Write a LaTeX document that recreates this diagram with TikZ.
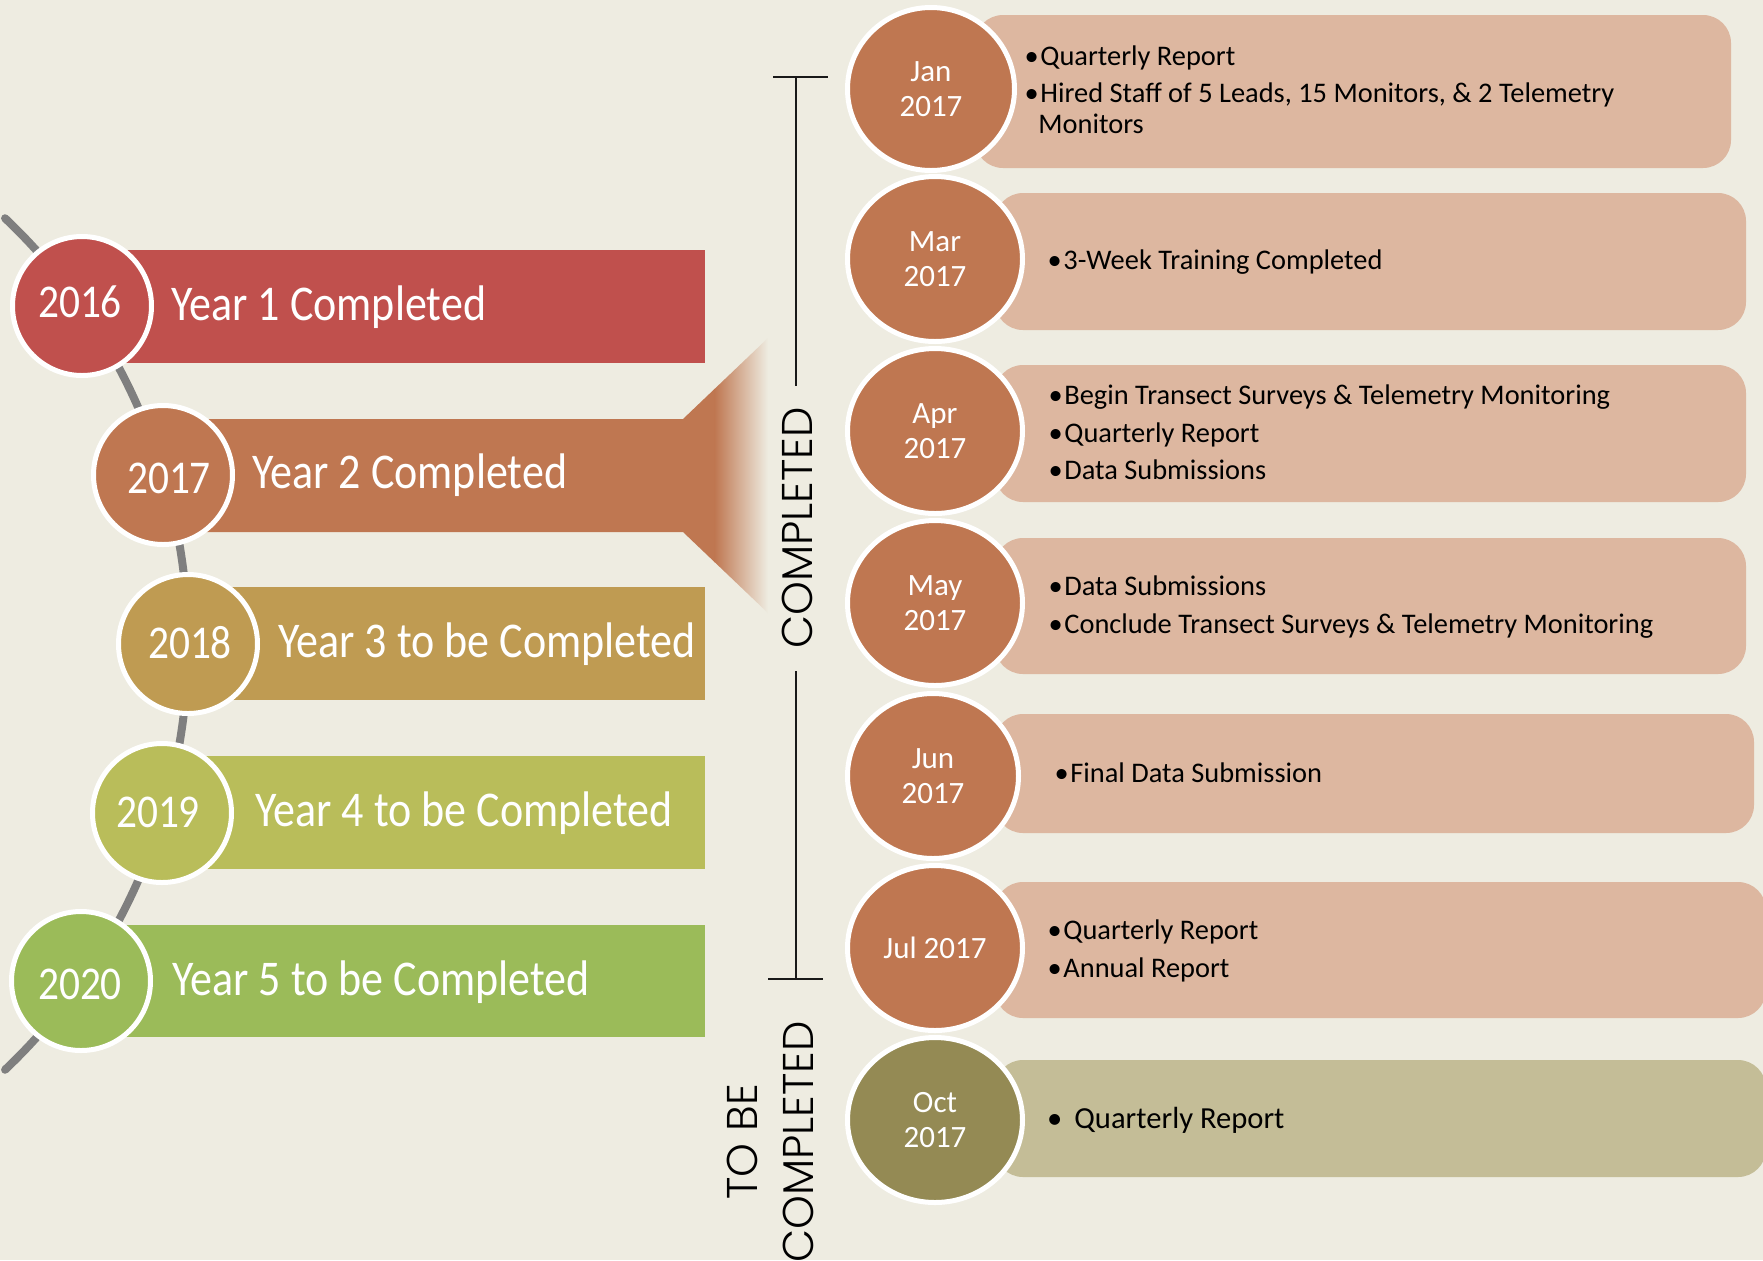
\documentclass[tikz,border=0pt]{standalone}
\usepackage{fontspec}
\setmainfont{Carlito}
\newfontfamily\condf{Carlito}[FakeStretch=0.88]
\IfFontExistsTF{Poppins Light}{\newfontfamily\gothf{Poppins Light}}{\newfontfamily\gothf{Poppins}}
\usetikzlibrary{shapes.geometric}
\definecolor{bg}{HTML}{EEECE1}
\definecolor{cRed}{HTML}{C0504D}
\definecolor{cOrg}{HTML}{BF7751}
\definecolor{cGold}{HTML}{BF9B52}
\definecolor{cYG}{HTML}{B9BD5A}
\definecolor{cGrn}{HTML}{9BBB59}
\definecolor{cSal}{HTML}{DDB7A0}
\definecolor{cOli}{HTML}{948A54}
\definecolor{cTan}{HTML}{C4BD97}
\definecolor{cGray}{HTML}{7F7F7F}
\newcommand\bul{\makebox[0pt][r]{•\hspace{0.8pt}}}
\begin{document}
\begin{tikzpicture}[x=0.5pt,y=-0.5pt,
  lc/.style={circle, draw=white, line width=2.5pt, minimum size=69.5pt, inner sep=0pt},
  ytext/.style={anchor=base west, text=white, inner sep=0pt, font=\condf\fontsize{25}{30}\selectfont},
  ydig/.style={anchor=base, text=white, inner sep=0pt, font=\condf\fontsize{23.5}{28}\selectfont},
  mc/.style={ellipse, draw=white, line width=2.5pt, inner sep=0pt, minimum width=87.5pt, minimum height=82.5pt,
     fill=cOrg, text=white, align=center, font=\fontsize{15.5}{17.5}\selectfont},
  rbox/.style={fill=cSal, rounded corners=14pt},
  btxt/.style={anchor=base west, inner sep=0pt, font=\fontsize{14.2}{17}\selectfont},
  gtext/.style={inner sep=0pt, font=\gothf\fontsize{21.5}{28}\selectfont},
  brk/.style={line width=1pt, draw=black!90}
]
\useasboundingbox (0,0) rectangle (1763,1260);
\fill[bg] (0,0) rectangle (1763,1260);
\begin{scope}
\clip (0,0) rectangle (1763,1260);

% ---------- left: timeline arc ----------
\draw[cGray, line width=4pt, line cap=round]
  plot[domain=-46.5:46.5, samples=90, smooth] ({-399+587*cos(\x)},{644-587*sin(\x)});

% bars
\fill[cRed] (82,250) rectangle (705,363);
\fill[cOrg] (163,419) -- (683,419) -- (715,388.5) -- (715,562.5) -- (683,532) -- (163,532) -- cycle;
\shade[left color=cOrg, right color=bg] (714.5,389) -- (768,338) -- (768,613) -- (714.5,562) -- cycle;
\fill[cGold] (188,587) rectangle (705,700);
\fill[cYG] (163,756) rectangle (705,869);
\fill[cGrn] (81,925) rectangle (705,1037);

% circles
\node[lc, fill=cRed]  (c16) at (82,306) {};
\node[lc, fill=cOrg]  (c17) at (163,475) {};
\node[lc, fill=cGold] (c18) at (188,644) {};
\node[lc, fill=cYG]   (c19) at (162,813) {};
\node[lc, fill=cGrn]  (c20) at (81,981) {};

\node[ydig] (d16) at (80,317) {2016};
\node[ydig] (d17) at (169,493) {2017};
\node[ydig] (d18) at (190,658) {2018};
\node[ydig] (d19) at (158,827) {2019};
\node[ydig] (d20) at (80,999) {2020};

\node[ytext] (y1) at (171,320) {Year 1 Completed};
\node[ytext] (y2) at (252,488) {Year 2 Completed};
\node[ytext] (y3) at (278,657) {Year 3 to be Completed};
\node[ytext] (y4) at (255,826) {Year 4 to be Completed};
\node[ytext] (y5) at (172,995) {Year 5 to be Completed};

% ---------- bracket and labels ----------
\coordinate (bt) at (796,77);
\coordinate (bm1) at (796,386);
\coordinate (bm2) at (796,671);
\coordinate (bb) at (796,979);
\coordinate (btl) at (773,77);  \coordinate (btr) at (828,77);
\coordinate (bbl) at (768,979); \coordinate (bbr) at (823,979);
\draw[brk] (btl) -- (btr);
\draw[brk] (bt) -- (bm1);
\draw[brk] (bm2) -- (bb);
\draw[brk] (bbl) -- (bbr);
\node[gtext, rotate=90] (cpl) at (797,528) {COMPLETED};
\node[gtext, rotate=90, align=center] (tbc) at (770,1142) {TO BE\\COMPLETED};

% ---------- right: boxes ----------
\fill[rbox] (975,15) rectangle (1731,168);
\fill[rbox] (995,193) rectangle (1746,330);
\fill[rbox] (995,365) rectangle (1746,502);
\fill[rbox] (995,538) rectangle (1746,674);
\fill[rbox] (995,714) rectangle (1754,833);
\fill[rbox] (995,882) rectangle (1766,1018);
\fill[rbox, fill=cTan] (995,1060) rectangle (1766,1177);

% month circles
\node[mc, minimum width=83.5pt, minimum height=81.5pt] (mjan) at (931,89) {Jan\\2017};
\node[mc] (mmar) at (935,259) {Mar\\2017};
\node[mc] (mapr) at (935,431) {Apr\\2017};
\node[mc] (mmay) at (935,603) {May\\2017};
\node[mc, minimum width=85.5pt] (mjun) at (933,776) {Jun\\2017};
\node[mc] (mjul) at (935,948) {Jul 2017};
\node[mc, fill=cOli] (moct) at (935,1120) {Oct\\2017};

% box texts
\node[btxt] (j1) at (1040,65) {\bul Quarterly Report};
\node[btxt] (j2) at (1040,102) {\bul Hired Staff of 5 Leads, 15 Monitors, \& 2 Telemetry};
\node[btxt] (j3) at (1038,133) {Monitors};
\node[btxt] (r1) at (1063,269) {\bul 3-Week Training Completed};
\node[btxt] (a1) at (1064,404) {\bul Begin Transect Surveys \& Telemetry Monitoring};
\node[btxt] (a2) at (1064,442) {\bul Quarterly Report};
\node[btxt] (a3) at (1064,479) {\bul Data Submissions};
\node[btxt] (y1b) at (1064,595) {\bul Data Submissions};
\node[btxt] (y2b) at (1064,633) {\bul Conclude Transect Surveys \& Telemetry Monitoring};
\node[btxt] (u1) at (1070,782) {\bul Final Data Submission};
\node[btxt] (l1) at (1063,939) {\bul Quarterly Report};
\node[btxt] (l2) at (1063,977) {\bul Annual Report};
\node[btxt, font=\fontsize{15.3}{18}\selectfont] (o1) at (1074,1128) {\makebox[0pt][r]{•\hspace{6pt}}Quarterly Report};
\end{scope}
\end{tikzpicture}
\end{document}
